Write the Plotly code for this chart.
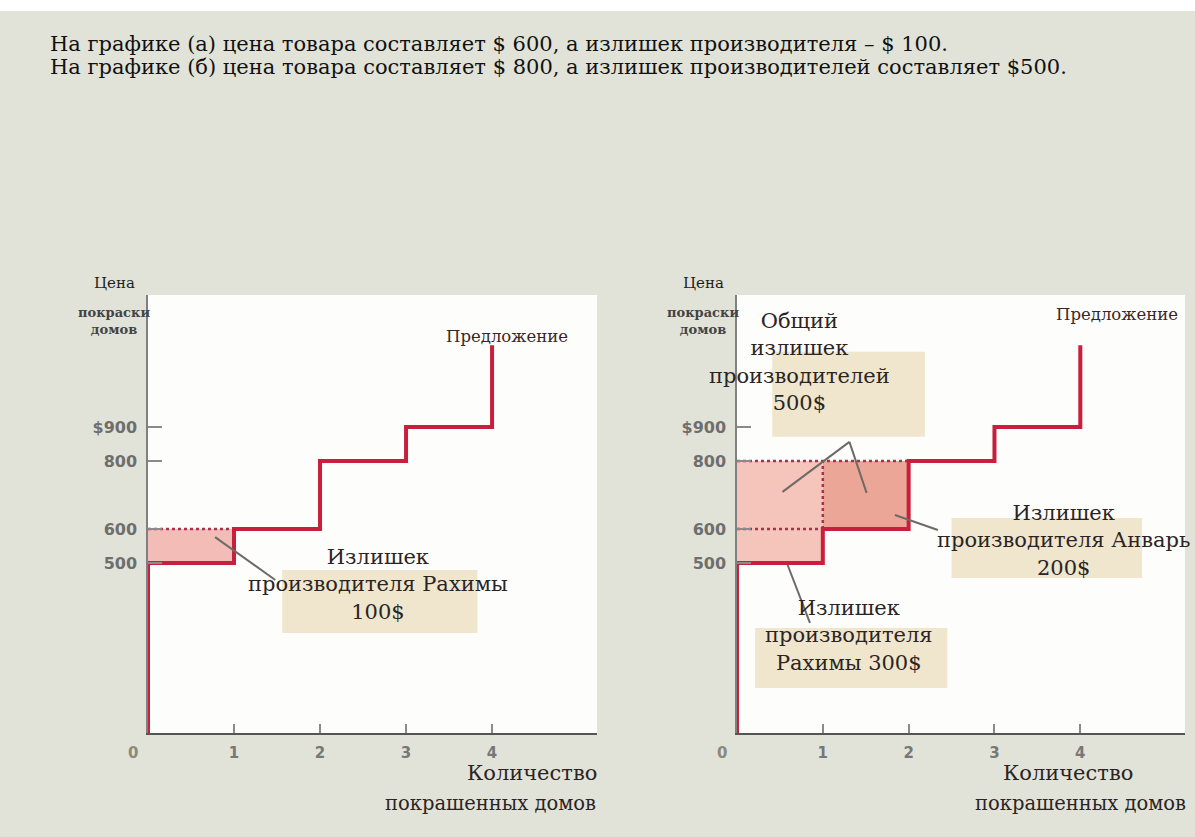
import plotly.graph_objects as go

# ---- data ----
quantities = [0, 0, 1, 2, 3, 4]            # step points of the supply curve
seller_costs = [0, 500, 600, 800, 900, 1140]  # price at each step point
x_tick_vals = [1, 2, 3, 4]
x_tick_text = ["1", "2", "3", "4"]
y_tick_vals = [500, 600, 800, 900]
y_tick_text = ["500", "600", "800", "$900"]

price_a = 600
price_b = 800
rahima_cost = 500
anvar_cost = 600

headline = [
    "На графике (а) цена товара составляет $ 600, а излишек производителя – $ 100.",
    "На графике (б) цена товара составляет $ 800, а излишек производителей составляет $500.",
]

RED = "#c81f3c"
SERIF = "DejaVu Serif"
SANS = "DejaVu Sans"
TXT = "#2b2424"

fig = go.Figure()

def rect(x0, x1, y0, y1):
    return [x0, x1, x1, x0, x0], [y0, y0, y1, y1, y0]

# ---- chart (a) ----
rx, ry = rect(0, 1, rahima_cost, price_a)
fig.add_trace(go.Scatter(x=rx, y=ry, fill="toself", fillcolor="#f4bcb6",
                         line=dict(width=0), mode="lines", xaxis="x", yaxis="y",
                         hoverinfo="skip"))
fig.add_trace(go.Scatter(x=[0, 1], y=[price_a, price_a], mode="lines",
                         line=dict(color="#a8324a", width=2.5, dash="dot"),
                         xaxis="x", yaxis="y"))
fig.add_trace(go.Scatter(x=quantities, y=seller_costs, mode="lines", line_shape="hv",
                         line=dict(color=RED, width=4), cliponaxis=False,
                         xaxis="x", yaxis="y"))

# ---- chart (b) ----
rx, ry = rect(0, 1, rahima_cost, price_b)
fig.add_trace(go.Scatter(x=rx, y=ry, fill="toself", fillcolor="#f5c4ba",
                         line=dict(width=0), mode="lines", xaxis="x2", yaxis="y2",
                         hoverinfo="skip"))
rx, ry = rect(1, 2, anvar_cost, price_b)
fig.add_trace(go.Scatter(x=rx, y=ry, fill="toself", fillcolor="#eca698",
                         line=dict(width=0), mode="lines", xaxis="x2", yaxis="y2",
                         hoverinfo="skip"))
for xs, ys in [([0, 2], [price_b, price_b]), ([0, 1], [price_a, price_a]),
               ([1, 1], [anvar_cost, price_b])]:
    fig.add_trace(go.Scatter(x=xs, y=ys, mode="lines",
                             line=dict(color="#a8324a", width=2.5, dash="dot"),
                             xaxis="x2", yaxis="y2"))
fig.add_trace(go.Scatter(x=quantities, y=seller_costs, mode="lines", line_shape="hv",
                         line=dict(color=RED, width=4), cliponaxis=False,
                         xaxis="x2", yaxis="y2"))

# ---- axes ----
def xax(domain):
    return dict(domain=domain, range=[0, 5.22], showgrid=False, zeroline=False,
                showline=True, linecolor="#555555", linewidth=1.5,
                ticks="inside", ticklen=9, tickwidth=1.5, tickcolor="#8a8a8a",
                tickvals=x_tick_vals, ticktext=x_tick_text,
                tickfont=dict(family=SANS, size=15, color="#777777", weight="bold"),
                ticklabelstandoff=5, fixedrange=True)

def yax(domain, anchor):
    return dict(domain=domain, range=[0, 1288], showgrid=False, zeroline=False,
                showline=True, linecolor="#808080", linewidth=1.5, anchor=anchor,
                ticks="inside", ticklen=14, tickwidth=2, tickcolor="#8a8a8a",
                tickvals=y_tick_vals, ticktext=y_tick_text,
                tickfont=dict(family=SANS, size=16, color="#6e6e6e", weight="bold"),
                ticklabelstandoff=6, fixedrange=True)

YD = [1 - 733 / 837, 1 - 295 / 837]
fig.update_layout(
    width=1195, height=837,
    margin=dict(l=0, r=0, t=0, b=0),
    paper_bgcolor="#e1e3d8",
    plot_bgcolor="#fdfdfb",
    showlegend=False,
    xaxis=xax([148 / 1195, 597 / 1195]),
    yaxis=yax(YD, "x"),
    xaxis2=xax([737 / 1195, 1185 / 1195]) | dict(anchor="y2"),
    yaxis2=yax(YD, "x2"),
)

shapes = []
# top white strip
shapes.append(dict(type="rect", xref="paper", yref="paper", x0=0, x1=1,
                   y0=1 - 11 / 837, y1=1, fillcolor="white", line=dict(width=0),
                   layer="below"))

def box(xr, yr, x0, x1, y0, y1):
    shapes.append(dict(type="rect", xref=xr, yref=yr, x0=x0, x1=x1, y0=y0, y1=y1,
                       fillcolor="rgba(236,226,196,0.85)", line=dict(width=0),
                       layer="above"))

def seg(xr, yr, x0, y0, x1, y1):
    shapes.append(dict(type="line", xref=xr, yref=yr, x0=x0, y0=y0, x1=x1, y1=y1,
                       line=dict(color="#6e6a66", width=2)))

box("x", "y", 1.56, 3.83, 294, 479)
seg("x", "y", 0.78, 576, 1.48, 450)

box("x2", "y2", 0.41, 2.19, 871, 1121)
seg("x2", "y2", 1.31, 856, 0.53, 709)
seg("x2", "y2", 1.31, 856, 1.51, 706)
box("x2", "y2", 2.50, 4.72, 456, 632)
seg("x2", "y2", 1.84, 641, 2.34, 597)
box("x2", "y2", 0.21, 2.45, 132, 309)
seg("x2", "y2", 0.59, 494, 0.85, 324)
fig.update_layout(shapes=shapes)

ann = []
def text(xr, yr, x, y, s, size=21, color=TXT, family=SERIF, xanchor="center",
         yanchor="middle", align="center", weight="normal"):
    ann.append(dict(xref=xr, yref=yr, x=x, y=y, text=s, showarrow=False,
                    xanchor=xanchor, yanchor=yanchor, align=align,
                    font=dict(family=family, size=size, color=color, weight=weight)))

def P(px, py):
    return px / 1195, 1 - py / 837

# headline
text("paper", "paper", *P(48, 44), headline[0], size=21, color="#111111", xanchor="left")
text("paper", "paper", *P(48, 67), headline[1], size=21, color="#111111", xanchor="left")

for px_axis in (148, 737):
    # y-axis title
    text("paper", "paper", *P(px_axis - 34, 283), "Цена", size=15, color="#1e1e1e")
    text("paper", "paper", *P(px_axis - 34, 321), "покраски<br>домов", size=13,
         color="#444444", weight="bold")
    # zero label
    text("paper", "paper", *P(px_axis - 15, 753), "0", size=15, family=SANS,
         color="#8a8a7a", weight="bold")

# x-axis titles
text("paper", "paper", *P(532, 773), "Количество", size=21)
text("paper", "paper", *P(598, 803), "покрашенных домов", size=19.5, xanchor="right")
text("paper", "paper", *P(1068, 773), "Количество", size=21)
text("paper", "paper", *P(1188, 803), "покрашенных домов", size=19.5, xanchor="right")

# supply labels
text("x", "y", 4.17, 1167, "Предложение", size=16.5, color="#3a2626")
text("x2", "y2", 4.43, 1232, "Предложение", size=16.5, color="#3a2626")

# surplus labels
text("x", "y", 2.67, 438, "Излишек<br>производителя Рахимы<br>100$")
text("x2", "y2", 0.73, 1091, "Общий<br>излишек<br>производителей<br>500$")
text("x2", "y2", 3.81, 565, "Излишек<br>производителя Анварь<br>200$")
text("x2", "y2", 1.30, 288, "Излишек<br>производителя<br>Рахимы 300$")

fig.update_layout(annotations=ann)
fig.write_html("out.html", config={"displayModeBar": False},
               post_script="document.body.style.margin='0';")
